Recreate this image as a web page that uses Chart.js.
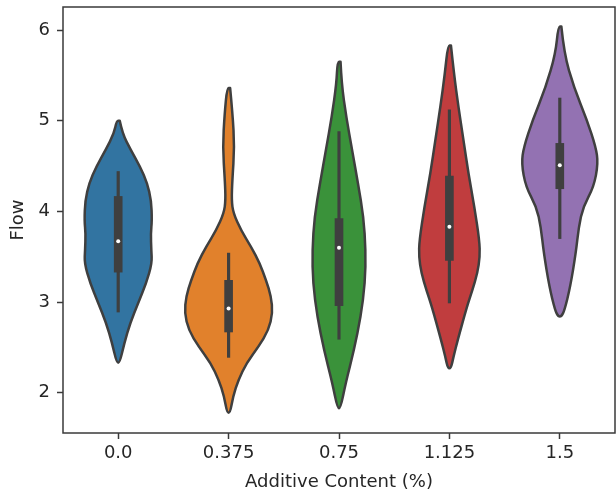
<!DOCTYPE html>
<html>
<head>
<meta charset="utf-8">
<script src="https://cdn.jsdelivr.net/npm/chart.js@4"></script>
<style>
html, body { margin: 0; padding: 0; background: #fff; }
</style>
</head>
<body>
<canvas id="myChart" width="616" height="495"></canvas>
<script>
// categories
const labels = ["0.0", "0.375", "0.75", "1.125", "1.5"];
const colors = ["#3274a1", "#e1812c", "#3a923a", "#c03d3e", "#9372b2"];

// violin outlines: y values and half widths (in category units)
const blueY = [5.0, 4.86, 4.68, 4.49, 4.31, 4.12, 3.9, 3.76, 3.57, 3.43, 3.21, 2.99, 2.77, 2.55, 2.33];
const blueW = [0.014, 0.038, 0.113, 0.2, 0.263, 0.299, 0.306, 0.295, 0.3, 0.306, 0.254, 0.181, 0.109, 0.056, 0.014];
const orangeY = [5.36, 5.08, 4.71, 4.35, 4.12, 3.98, 3.79, 3.61, 3.43, 3.24, 3.06, 2.88, 2.69, 2.51, 2.33, 2.14, 1.96, 1.78];
const orangeW = [0.014, 0.036, 0.053, 0.034, 0.027, 0.043, 0.113, 0.204, 0.281, 0.34, 0.385, 0.399, 0.362, 0.272, 0.163, 0.088, 0.041, 0.014];
const greenY = [5.65, 5.41, 5.04, 4.68, 4.31, 3.94, 3.57, 3.21, 2.84, 2.47, 2.11, 1.83];
const greenW = [0.014, 0.023, 0.066, 0.118, 0.172, 0.222, 0.242, 0.236, 0.197, 0.136, 0.061, 0.014];
const redY = [5.83, 5.52, 5.15, 4.79, 4.42, 4.05, 3.68, 3.5, 3.32, 3.13, 2.95, 2.58, 2.4, 2.27];
const redW = [0.014, 0.041, 0.082, 0.127, 0.172, 0.226, 0.272, 0.276, 0.254, 0.208, 0.159, 0.075, 0.038, 0.014];
const purpleY = [6.04, 5.74, 5.37, 5.01, 4.71, 4.53, 4.27, 4.05, 3.83, 3.54, 3.17, 2.91, 2.84];
const purpleW = [0.014, 0.039, 0.127, 0.245, 0.326, 0.347, 0.308, 0.211, 0.172, 0.145, 0.095, 0.043, 0.014];

// inner box plot values
const whiskers = [[2.89, 4.44], [2.39, 3.54], [2.59, 4.88], [2.99, 5.12], [3.7, 5.25]];
const quartiles = [[3.33, 4.165], [2.67, 3.24], [2.96, 3.92], [3.46, 4.39], [4.25, 4.75]];
const medians = [3.67, 2.93, 3.6, 3.83, 4.51];

// y axis ticks
const yTicks = [2, 3, 4, 5, 6];

var violins = [
    { y: blueY, w: blueW },
    { y: orangeY, w: orangeW },
    { y: greenY, w: greenW },
    { y: redY, w: redW },
    { y: purpleY, w: purpleW },
];
var edge = "#3f3f3f";
var font = { family: "'DejaVu Sans', sans-serif", size: 18 };

function smoothPath(ctx, pts) {
    ctx.moveTo(pts[0].x, pts[0].y);
    for (var i = 1; i < pts.length - 1; i++) {
        var mx = (pts[i].x + pts[i + 1].x) / 2,
            my = (pts[i].y + pts[i + 1].y) / 2;
        ctx.quadraticCurveTo(pts[i].x, pts[i].y, mx, my);
    }
    var l = pts[pts.length - 1];
    ctx.lineTo(l.x, l.y);
}

const violinPlugin = {
    id: "violins",
    beforeDatasetsDraw(chart) {
        var ctx = chart.ctx,
            xs = chart.scales.x,
            ys = chart.scales.y;
        violins.forEach(function (v, i) {
            var pts = [];
            for (var k = 0; k < v.y.length; k++)
                pts.push({ x: xs.getPixelForValue(i + v.w[k]), y: ys.getPixelForValue(v.y[k]) });
            for (var k = v.y.length - 1; k >= 0; k--)
                pts.push({ x: xs.getPixelForValue(i - v.w[k]), y: ys.getPixelForValue(v.y[k]) });
            pts.push(pts[0]);
            ctx.save();
            ctx.beginPath();
            smoothPath(ctx, pts);
            ctx.closePath();
            ctx.fillStyle = colors[i];
            ctx.fill();
            ctx.lineWidth = 2.5;
            ctx.lineJoin = "round";
            ctx.strokeStyle = edge;
            ctx.stroke();
            ctx.restore();
        });
    },
    afterDraw(chart) {
        var a = chart.chartArea,
            ctx = chart.ctx;
        ctx.save();
        ctx.strokeStyle = "#3a3a3a";
        ctx.lineWidth = 1.5;
        ctx.strokeRect(a.left, a.top, a.right - a.left, a.bottom - a.top);
        ctx.restore();
    },
};

var cfg = {
    type: "bar",
    data: {
        labels: labels,
        datasets: [
            {
                type: "line",
                data: medians,
                showLine: false,
                pointRadius: 2,
                pointBackgroundColor: "#ffffff",
                pointBorderWidth: 0,
                order: 0,
            },
            {
                data: quartiles,
                backgroundColor: edge,
                barThickness: 8,
                grouped: false,
                order: 1,
            },
            {
                data: whiskers,
                backgroundColor: edge,
                barThickness: 2.5,
                grouped: false,
                order: 2,
            },
        ],
    },
    options: {
        responsive: false,
        animation: false,
        events: [],
        layout: { autoPadding: false, padding: { top: 7, right: 1, left: 0, bottom: 0 } },
        plugins: { legend: { display: false }, tooltip: { enabled: false } },
        scales: {
            x: {
                type: "category",
                offset: true,
                grid: { offset: false, drawOnChartArea: false, tickLength: 6, color: "#3a3a3a", tickWidth: 1.5 },
                border: { display: false },
                ticks: { font: font, color: "#262626", padding: 4, maxRotation: 0 },
                title: { display: true, text: "Additive Content (%)", font: font, color: "#262626", padding: { top: 0, bottom: 2 } },
                afterFit: function (s) {
                    s.height = 62;
                    s.paddingLeft = 0;
                    s.paddingRight = 0;
                },
            },
            y: {
                min: 1.556,
                max: 6.254,
                grid: { drawOnChartArea: false, tickLength: 6, color: "#3a3a3a", tickWidth: 1.5 },
                border: { display: false },
                afterBuildTicks: function (s) {
                    s.ticks = yTicks.map(function (v) { return { value: v }; });
                },
                ticks: { font: font, color: "#262626", padding: 7 },
                title: { display: true, text: "Flow", font: font, color: "#262626", padding: { top: 8, bottom: 0 } },
                afterFit: function (s) {
                    s.width = 63;
                    s.paddingTop = 0;
                    s.paddingBottom = 0;
                },
            },
        },
    },
    plugins: [violinPlugin],
};

new Chart(document.getElementById("myChart").getContext("2d"), cfg);
</script>
</body>
</html>
